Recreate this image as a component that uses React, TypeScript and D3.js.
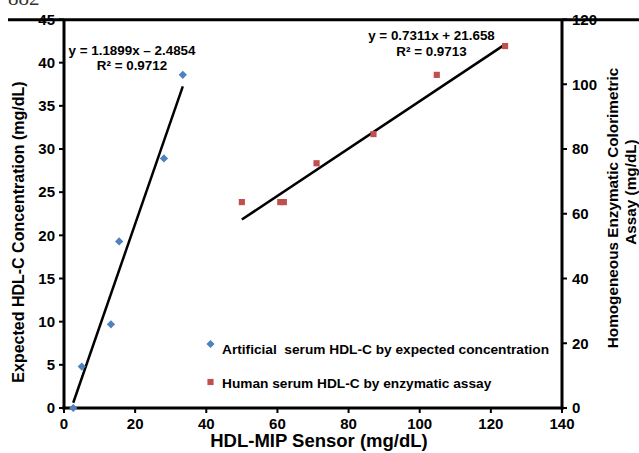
import React from "react";
import * as d3 from "d3";

const artificialX = [2.6, 5.0, 13.2, 15.5, 28.1, 33.4];
const artificialY = [0.0, 4.8, 9.7, 19.3, 28.9, 38.6];
const humanX = [50.0, 60.8, 61.8, 71.0, 87.0, 104.8, 124.0];
const humanY = [63.6, 63.6, 63.6, 75.6, 84.6, 102.9, 111.8];
const artificialFit = { slope: 1.1899, intercept: -2.4854, eq: "y = 1.1899x – 2.4854", r2: "R² = 0.9712" };
const humanFit = { slope: 0.7311, intercept: 21.658, eq: "y = 0.7311x + 21.658", r2: "R² = 0.9713" };
const xTicks = [0, 20, 40, 60, 80, 100, 120, 140];
const leftTicks = [0, 5, 10, 15, 20, 25, 30, 35, 40, 45];
const rightTicks = [0, 20, 40, 60, 80, 100, 120];
const legendLabels = ["Artificial  serum HDL-C by expected concentration", "Human serum HDL-C by enzymatic assay"];

const BLUE = "#4f81bd";
const RED = "#c0504d";
const FONT = "'Liberation Sans', Arial, sans-serif";

export default function App() {
  const left = 64, right = 562, top = 19.5, bottom = 408;
  const x = d3.scaleLinear().domain([0, 140]).range([left, right]);
  const yL = d3.scaleLinear().domain([0, 45]).range([bottom, top]);
  const yR = d3.scaleLinear().domain([0, 120]).range([bottom, top]);

  const diamond = d3.symbol().type(d3.symbolSquare).size(34)()!;
  const square = d3.symbol().type(d3.symbolSquare).size(38)()!;

  const line = d3.line<[number, number]>();
  const aMin = d3.min(artificialX)!, aMax = d3.max(artificialX)!;
  const hMin = d3.min(humanX)!, hMax = d3.max(humanX)!;
  const aLine = line([
    [x(aMin), yL(artificialFit.slope * aMin + artificialFit.intercept)],
    [x(aMax), yL(artificialFit.slope * aMax + artificialFit.intercept)],
  ]);
  const hLine = line([
    [x(hMin), yR(humanFit.slope * hMin + humanFit.intercept)],
    [x(hMax), yR(humanFit.slope * hMax + humanFit.intercept)],
  ]);

  return (
    <svg width={639} height={453} style={{ position: "absolute", left: 0, top: 0, background: "#fff" }} fontFamily={FONT}>
      <rect width={639} height={453} fill="#fff" />
      <text x={8} y={5} fontFamily="'Liberation Serif', 'DejaVu Serif', serif" fontSize={21} fill="#333">882</text>
      <line x1={8} x2={639} y1={19.8} y2={19.8} stroke="#000" strokeWidth={3} />

      {/* axes */}
      <line x1={left} x2={left} y1={top} y2={bottom + 1.5} stroke="#000" strokeWidth={3} />
      <line x1={right} x2={right} y1={top} y2={bottom + 1.5} stroke="#000" strokeWidth={3} />
      <line x1={left - 1.5} x2={right + 1.5} y1={bottom} y2={bottom} stroke="#000" strokeWidth={3} />

      {leftTicks.map((t) => (
        <g key={"l" + t}>
          <line x1={left - 5} x2={left} y1={yL(t)} y2={yL(t)} stroke="#000" strokeWidth={2} />
          <text x={55} y={yL(t) + 5.3} textAnchor="end" fontSize={15} fontWeight="bold">{t}</text>
        </g>
      ))}
      {rightTicks.map((t) => (
        <g key={"r" + t}>
          <line x1={right} x2={right + 5} y1={yR(t)} y2={yR(t)} stroke="#000" strokeWidth={2} />
          <text x={572} y={yR(t) + 5.3} textAnchor="start" fontSize={15} fontWeight="bold">{t}</text>
        </g>
      ))}
      {xTicks.map((t) => (
        <g key={"x" + t}>
          <line x1={x(t)} x2={x(t)} y1={bottom} y2={bottom + 5} stroke="#000" strokeWidth={2} />
          <text x={x(t)} y={428.5} textAnchor="middle" fontSize={15} fontWeight="bold">{t}</text>
        </g>
      ))}

      <text x={319} y={447} textAnchor="middle" fontSize={18.5} fontWeight="bold">HDL-MIP Sensor (mg/dL)</text>
      <text transform="translate(24,232) rotate(-90)" textAnchor="middle" fontSize={16} fontWeight="bold">Expected HDL-C Concentration (mg/dL)</text>
      <text transform="translate(618,208) rotate(-90)" textAnchor="middle" fontSize={15.3} fontWeight="bold">Homogeneous Enzymatic Colorimetric</text>
      <text transform="translate(636,192) rotate(-90)" textAnchor="middle" fontSize={15.3} fontWeight="bold">Assay (mg/dL)</text>

      {/* fits */}
      <path d={aLine!} stroke="#000" strokeWidth={2.5} fill="none" />
      <path d={hLine!} stroke="#000" strokeWidth={2.5} fill="none" />

      {artificialX.map((v, i) => (
        <path key={"a" + i} d={diamond} transform={`translate(${x(v)},${yL(artificialY[i])}) rotate(45)`} fill={BLUE} />
      ))}
      {humanX.map((v, i) => (
        <path key={"h" + i} d={square} transform={`translate(${x(v)},${yR(humanY[i])})`} fill={RED} />
      ))}

      <text x={132} y={55} textAnchor="middle" fontSize={13.4} fontWeight="bold">{artificialFit.eq}</text>
      <text x={132} y={70} textAnchor="middle" fontSize={13.4} fontWeight="bold">{artificialFit.r2}</text>
      <text x={431.5} y={40} textAnchor="middle" fontSize={13.4} fontWeight="bold">{humanFit.eq}</text>
      <text x={431.5} y={56} textAnchor="middle" fontSize={13.4} fontWeight="bold">{humanFit.r2}</text>

      {/* legend */}
      <path d={diamond} transform="translate(210.5,344) rotate(45)" fill={BLUE} />
      <text x={222} y={354} fontSize={13.7} fontWeight="bold" style={{ whiteSpace: "pre" }}>{legendLabels[0]}</text>
      <path d={square} transform="translate(210.5,382)" fill={RED} />
      <text x={222} y={387.5} fontSize={13.7} fontWeight="bold">{legendLabels[1]}</text>
    </svg>
  );
}
